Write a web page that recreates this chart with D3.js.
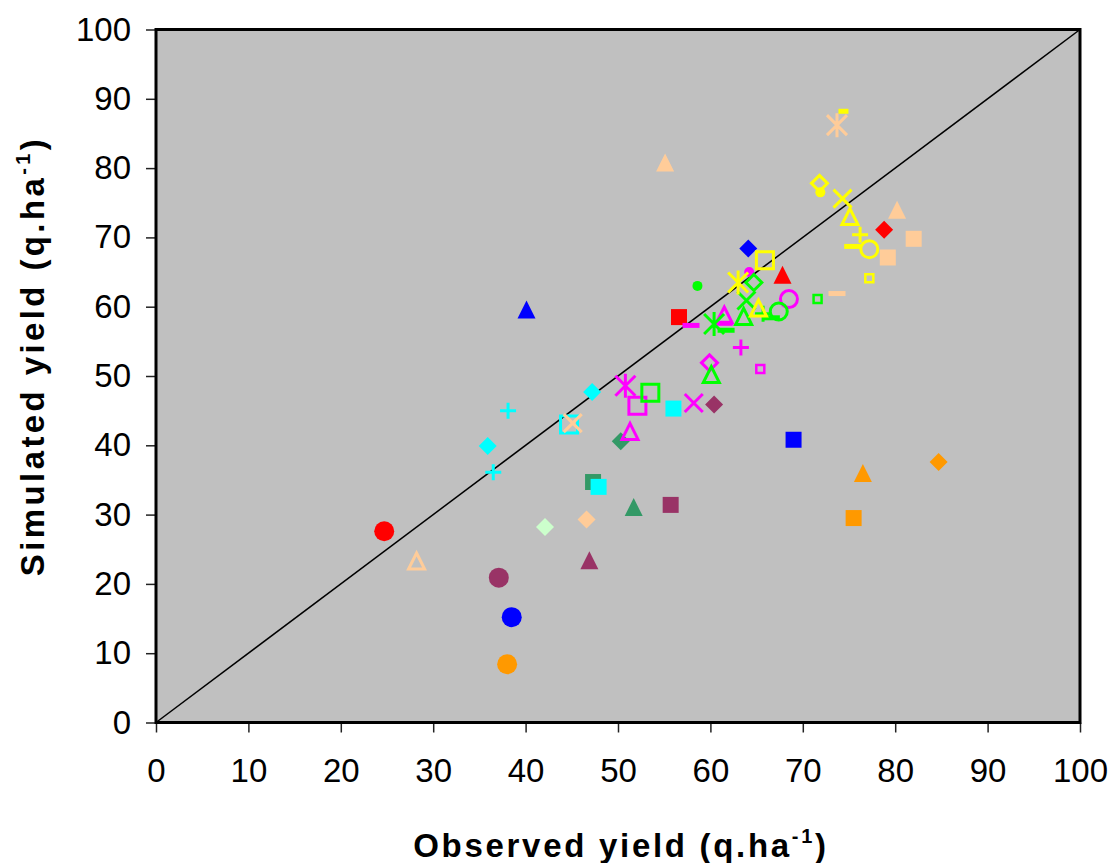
<!DOCTYPE html>
<html>
	<head>
		<meta charset="utf-8">
		<style type="text/css">
			body { margin: 0; background: white; }
			svg  { display: block; font-family: "Liberation Sans", Arial, sans-serif; }
		</style>
		<title>Observed vs simulated yield</title>
	</head>
	<body>
		<script src="https://cdn.jsdelivr.net/npm/d3@7"></script>
		<script>

// data /////////////////////////////////////////////////////////////////
// each point: [observed, simulated, marker]

var ticks = [0, 10, 20, 30, 40, 50, 60, 70, 80, 90, 100];

var red = [
	[24.7, 27.6, 'circle'], [56.6, 58.5, 'square'], [67.8, 64.6, 'triangle'], [78.8, 71.1, 'diamond'],
];
var blue = [
	[38.5, 15.2, 'circle'], [69.0, 40.8, 'square'], [40.1, 59.6, 'triangle'], [64.1, 68.4, 'diamond'],
];
var orange = [
	[38.0, 8.4, 'circle'], [75.5, 29.5, 'square'], [76.5, 36.0, 'triangle'], [84.7, 37.6, 'diamond'],
];
var plum = [
	[37.1, 20.9, 'circle'], [55.7, 31.4, 'square'], [46.9, 23.4, 'triangle'], [60.4, 45.9, 'diamond'],
];
var seaGreen = [
	[47.3, 34.7, 'square'], [51.7, 31.1, 'triangle'], [50.3, 40.6, 'diamond'],
];
var lightGreen = [
	[42.1, 28.2, 'diamond'],
];
var cyan = [
	[47.9, 34.0, 'square'], [56.0, 45.3, 'square'], [35.9, 39.9, 'diamond'], [47.2, 47.7, 'diamond'],
	[36.5, 36.1, 'plus'], [38.1, 45.0, 'plus'], [44.7, 43.0, 'openSquare'],
];
var peach = [
	[28.2, 23.3, 'openTriangle'], [46.6, 29.3, 'diamond'], [55.1, 80.8, 'triangle'], [80.2, 74.0, 'triangle'],
	[82.0, 69.8, 'square'], [79.2, 67.1, 'square'], [45.1, 43.2, 'cross'], [73.7, 86.2, 'asterisk'],
	[73.7, 61.9, 'dash'],
];
var magenta = [
	[51.3, 42.0, 'openTriangle'], [52.1, 45.7, 'openSquare'], [50.8, 48.6, 'asterisk'], [58.2, 46.1, 'cross'],
	[59.9, 51.9, 'openDiamond'], [63.3, 54.1, 'plus'], [65.4, 51.0, 'smallSquare'], [57.9, 57.3, 'dash'],
	[61.5, 58.8, 'openTriangle'], [61.5, 57.6, 'dash'], [68.5, 61.1, 'openCircle'], [64.2, 65.0, 'dot'],
];
var green = [
	[53.5, 47.6, 'openSquare'], [60.1, 50.2, 'openTriangle'], [60.4, 57.5, 'asterisk'], [61.7, 56.6, 'dash'],
	[63.6, 58.6, 'openTriangle'], [63.9, 60.9, 'cross'], [65.7, 59.0, 'plus'], [66.6, 58.4, 'dash'],
	[67.4, 59.3, 'openCircle'], [71.6, 61.1, 'smallSquare'], [64.7, 63.5, 'openDiamond'], [58.6, 63.0, 'dot'],
];
var yellow = [
	[63.0, 63.5, 'asterisk'], [65.9, 66.7, 'openSquare'], [65.2, 59.8, 'openTriangle'], [74.4, 88.2, 'shortDash'],
	[71.8, 77.8, 'openDiamond'], [71.9, 76.5, 'dot'], [74.3, 75.6, 'cross'], [75.1, 73.0, 'openTriangle'],
	[76.2, 70.4, 'plus'], [75.4, 68.7, 'dash'], [77.2, 68.3, 'openCircle'], [77.2, 64.1, 'smallSquare'],
];

var groups = [
	['red', red], ['blue', blue], ['orange', orange], ['plum', plum], ['seaGreen', seaGreen],
	['lightGreen', lightGreen], ['cyan', cyan], ['peach', peach], ['magenta', magenta],
	['green', green], ['yellow', yellow],
];

var palette = {
	red: '#ff0000', blue: '#0000ff', orange: '#ff9900', plum: '#993366', seaGreen: '#339966',
	lightGreen: '#ccffcc', cyan: '#00ffff', peach: '#ffcc99', magenta: '#ff00ff',
	green: '#00ff00', yellow: '#ffff00',
};

var points = groups.flatMap(([name, pts]) => pts.map(p => ({
	observed:  p[0],
	simulated: p[1],
	marker:    p[2],
	color:     palette[name],
})));


// layout ///////////////////////////////////////////////////////////////

var W = 1115, H = 863;
var plotL = 156, plotR = 1080, plotT = 29.5, plotB = 722.5;

var svg = d3.select('body').append('svg')
	.attr('width', W)
	.attr('height', H);

var x = d3.scaleLinear().domain([0, 100]).range([plotL, plotR]);
var y = d3.scaleLinear().domain([0, 100]).range([plotB, plotT]);

// plot area
svg.append('rect')
	.attr('x', plotL).attr('y', plotT)
	.attr('width', plotR - plotL).attr('height', plotB - plotT)
	.attr('fill', '#c0c0c0');

// 1:1 line
svg.append('line')
	.attr('x1', x(0)).attr('y1', y(0))
	.attr('x2', x(100)).attr('y2', y(100))
	.attr('stroke', 'black')
	.attr('stroke-width', 1.5);


// axes /////////////////////////////////////////////////////////////////

function tickStyle(g) {
	g.select('.domain').remove();
	g.selectAll('.tick line').attr('stroke', '#222').attr('stroke-width', 1.5);
	g.selectAll('.tick text')
		.attr('font-size', 33)
		.attr('font-family', '"Liberation Sans", Arial, sans-serif')
		.attr('fill', 'black');
}

svg.append('g')
	.attr('transform', `translate(0,${plotB})`)
	.call(d3.axisBottom(x).tickValues(ticks).tickSize(10).tickPadding(26))
	.call(tickStyle);

svg.append('g')
	.attr('transform', `translate(${plotL},0)`)
	.call(d3.axisLeft(y).tickValues(ticks).tickSize(10).tickPadding(15))
	.call(tickStyle);

// frame
svg.append('rect')
	.attr('x', plotL).attr('y', plotT)
	.attr('width', plotR - plotL).attr('height', plotB - plotT)
	.attr('fill', 'none')
	.attr('stroke', 'black')
	.attr('stroke-width', 3);

// titles
function title(sel, label, spacing) {
	sel.attr('font-size', 33)
		.attr('font-weight', 'bold')
		.attr('letter-spacing', spacing)
		.attr('text-anchor', 'middle')
		.attr('fill', 'black');
	sel.append('tspan').text(label + ' (q.ha');
	sel.append('tspan').attr('font-size', 20).attr('dy', -14).text('-1');
	sel.append('tspan').attr('dy', 14).text(')');
}

svg.append('text')
	.attr('transform', `translate(${(plotL + plotR) / 2 + 3},857)`)
	.call(title, 'Observed yield', 2.7);

svg.append('text')
	.attr('transform', `translate(44,356) rotate(-90)`)
	.call(title, 'Simulated yield', 3.4);


// markers //////////////////////////////////////////////////////////////

var shapes = {
	circle:       { path: circle(10),     fill: true },
	dot:          { path: circle(5),      fill: true },
	square:       { path: square(8),      fill: true },
	diamond:      { path: diamond(9),     fill: true },
	triangle:     { path: triangle(9),    fill: true },
	dash:         { path: 'M-8.5,-2.5H8.5V2.5H-8.5Z', fill: true },
	shortDash:    { path: 'M-5,-2.5H5V2.5H-5Z',       fill: true },
	openSquare:   { path: square(8.5),    width: 3 },
	smallSquare:  { path: square(4),      width: 2.5 },
	openDiamond:  { path: diamond(8),     width: 3 },
	openTriangle: { path: triangle(8),    width: 3 },
	openCircle:   { path: circle(8.5),    width: 3 },
	cross:        { path: 'M-9,-9L9,9M-9,9L9,-9', width: 3 },
	asterisk:     { path: 'M-10,-10L10,10M-10,10L10,-10M0,-12V12', width: 3 },
	plus:         { path: 'M-8,0H8M0,-8V8', width: 3 },
};

function circle(r) {
	return `M${r},0A${r},${r} 0 1,1 ${-r},0A${r},${r} 0 1,1 ${r},0Z`;
}
function square(s) {
	return `M${-s},${-s}H${s}V${s}H${-s}Z`;
}
function diamond(s) {
	return `M0,${-s}L${s},0L0,${s}L${-s},0Z`;
}
function triangle(s) {
	return `M0,${-s}L${s},${s}L${-s},${s}Z`;
}

svg.append('g')
	.selectAll('path')
	.data(points)
	.join('path')
		.attr('transform', d => `translate(${x(d.observed)},${y(d.simulated)})`)
		.attr('d', d => shapes[d.marker].path)
		.attr('fill', d => shapes[d.marker].fill ? d.color : 'none')
		.attr('stroke', d => shapes[d.marker].fill ? 'none' : d.color)
		.attr('stroke-width', d => shapes[d.marker].width || 0)
		.attr('stroke-linejoin', 'miter');

		</script>
	</body>
</html>
